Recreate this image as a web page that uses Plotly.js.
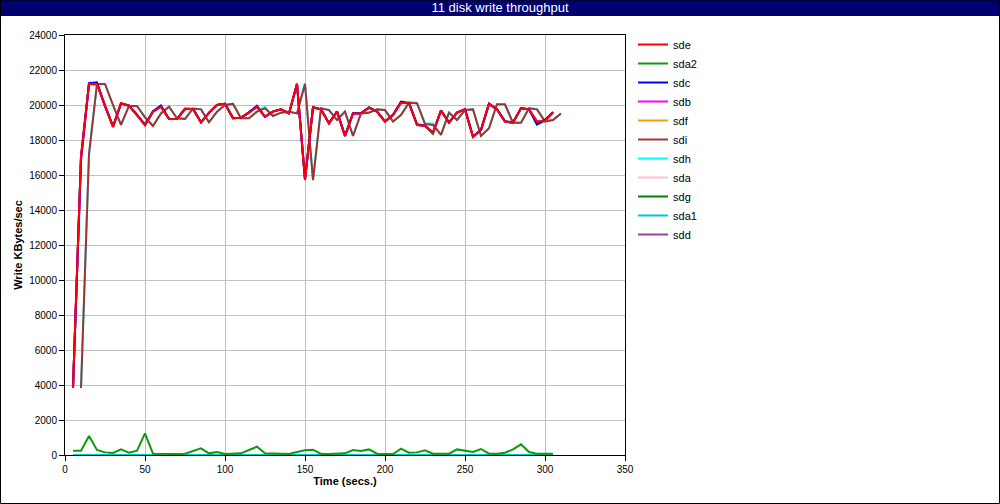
<!DOCTYPE html>
<html>
<head>
<meta charset="utf-8">
<script src="https://cdn.plot.ly/plotly-3.0.1.min.js"></script>
<style>
html,body{margin:0;padding:0;background:#fff;}
#chart{width:1000px;height:504px;}
</style>
</head>
<body>
<div id="chart"></div>
<script>
var chartTitle = "11 disk write throughput";
var xTitle = "Time (secs.)";
var yTitle = "Write KBytes/sec";
var xTicks = [0, 50, 100, 150, 200, 250, 300, 350];
var yTicks = [0, 2000, 4000, 6000, 8000, 10000, 12000, 14000, 16000, 18000, 20000, 22000, 24000];

var tMain = [5,10,15,20,25,30,35,40,45,50,55,60,65,70,75,80,85,90,95,100,105,110,115,120,125,130,135,140,145,150,155,160,165,170,175,180,185,190,195,200,205,210,215,220,225,230,235,240,245,250,255,260,265,270,275,280,285,290,295,300,305];
var tLag = [10,15,20,25,30,35,40,45,50,55,60,65,70,75,80,85,90,95,100,105,110,115,120,125,130,135,140,145,150,155,160,165,170,175,180,185,190,195,200,205,210,215,220,225,230,235,240,245,250,255,260,265,270,275,280,285,290,295,300,305,310];

var sde  = [3830,17050,21200,21200,19950,18760,20100,19960,19430,18860,19620,19900,19200,19200,19770,19770,19010,19550,20000,20060,19240,19270,19560,19900,19330,19620,19750,19520,21200,15750,19860,19750,18950,19620,18230,19520,19520,19850,19620,19050,19430,20130,20100,18860,18800,18420,19680,18990,19560,19750,18190,18570,20060,19750,19050,18990,19810,19750,19050,19100,19580];
var sda2 = [250,250,1090,285,150,115,320,130,250,1240,76,57,57,57,76,250,380,95,170,57,57,95,285,476,95,95,95,57,170,267,305,57,57,57,95,285,230,320,76,57,57,362,130,150,267,76,76,76,320,230,170,343,76,76,130,320,610,170,76,76,76];
var sdc  = [3830,17000,21250,21300,19950,18780,20080,19960,19430,18880,19640,19980,19220,19200,19800,19770,19010,19560,20000,20080,19260,19270,19580,19960,19330,19640,19760,19520,21200,15760,19880,19750,18960,19640,18240,19530,19540,19860,19620,19060,19440,20200,20120,18900,18820,18430,19700,19000,19570,19760,18200,18580,20080,19760,19080,19000,19830,19760,18900,19150,19600];
var sdb  = [3830,16800,21200,21250,19950,18760,20100,19960,19430,18860,19620,19920,19200,19200,19770,19770,19010,19550,20000,20060,19240,19270,19600,19900,19330,19620,19750,19520,21200,15700,19860,19750,18950,19620,18230,19520,19520,19850,19620,19050,19430,20150,20100,18860,18800,18420,19680,18990,19560,19750,18190,18570,20060,19750,19050,18990,19810,19750,19050,19100,19580];
var sdf  = [3830,17050,21200,21200,19950,18700,20100,19960,19430,18860,19620,19900,19200,19200,19770,19770,19010,19550,20000,20060,19240,19270,19560,19900,19330,19620,19750,19520,21250,15750,19860,19750,18950,19620,18230,19520,19520,19850,19620,19050,19430,20130,20100,18860,18800,18420,19680,18990,19560,19750,18150,18570,20060,19750,19050,18990,19810,19750,19050,19100,19580];
var sdi  = [3830,17200,21200,21200,20000,18860,19950,19950,19300,18800,19520,19900,19240,19200,19800,19750,19010,19620,20000,20060,19240,19240,19620,19810,19370,19560,19620,19520,21200,15700,19810,19710,19140,19620,18230,19520,19560,19750,19710,19050,19430,20130,20100,18910,18860,18290,19560,19140,19710,19750,18230,18670,20040,20040,18990,18990,19810,19750,19050,19140,19520];
var sdh  = [3830,17150,21200,21200,20000,18880,19950,19950,19300,18820,19540,19920,19240,19220,19800,19760,19020,19620,20000,20080,19240,19260,19640,19900,19380,19560,19640,19520,21250,15720,19810,19720,19140,19640,18240,19520,19580,19760,19710,19060,19440,20150,20120,18950,18950,18300,19580,19150,19720,19760,18240,18680,20040,19980,18990,19000,19830,19760,19100,19140,19520];
var sda  = [3830,17050,21200,21200,19950,18760,20100,19960,19430,18860,19620,19900,19200,19200,19770,19770,19010,19550,20000,20060,19240,19270,19560,19900,19330,19620,19750,19520,21200,15750,19860,19750,18950,19620,18230,19520,19520,19850,19620,19050,19430,20130,20100,18860,18800,18420,19680,18990,19560,19750,18190,18570,20060,19750,19050,18990,19810,19750,19050,19100,19580];
var sdg  = [3830,17050,21200,21200,19950,18760,20100,19960,19430,18860,19620,19900,19200,19200,19770,19770,19010,19550,20000,20060,19240,19270,19560,19900,19330,19620,19750,19520,21200,15750,19860,19750,18950,19620,18230,19520,19520,19850,19620,19050,19430,20130,20100,18860,18800,18350,19680,18990,19560,19750,18190,18570,20060,19750,19050,18990,19810,19750,18880,19100,19580];
var sda1 = [0,0,0,0,0,0,0,0,0,0,0,0,0,0,0,0,0,0,0,0,0,0,0,0,0,0,0,0,0,0,0,0,0,0,0,0,0,0,0,0,0,0,0,0,0,0,0,0,0,0,0,0,0,0,0,0,0,0,0,0,0];
var sdd  = [3830,16900,21200,21150,19950,18760,20100,19960,19430,18860,19620,19900,19200,19200,19770,19770,19010,19550,20000,20060,19240,19270,19560,19900,19330,19620,19750,19520,21200,15750,19860,19750,18950,19620,18230,19520,19520,19850,19620,19050,19430,20130,20100,18860,18800,18420,19680,18990,19560,19750,18190,18570,20060,19750,19050,18990,19810,19750,19050,19100,19580];

var series = [
  {name: "sde",  x: tMain, y: sde,  color: "#ff0000"},
  {name: "sda2", x: tMain, y: sda2, color: "#109810"},
  {name: "sdc",  x: tMain, y: sdc,  color: "#0000ff"},
  {name: "sdb",  x: tMain, y: sdb,  color: "#ff00ff"},
  {name: "sdf",  x: tMain, y: sdf,  color: "#f0a000"},
  {name: "sdi",  x: tLag,  y: sdi,  color: "#a03434"},
  {name: "sdh",  x: tLag,  y: sdh,  color: "#00ffff"},
  {name: "sda",  x: tMain, y: sda,  color: "#ffc0cb"},
  {name: "sdg",  x: tMain, y: sdg,  color: "#008000"},
  {name: "sda1", x: tMain, y: sda1, color: "#00c8d0"},
  {name: "sdd",  x: tMain, y: sdd,  color: "#a040a0"}
];

var traces = [];
for (var i = series.length - 1; i >= 0; i--) {
  var s = series[i];
  traces.push({
    type: "scatter", mode: "lines", name: s.name, x: s.x, y: s.y,
    line: {color: s.color, width: 2}
  });
}

var FONT = "Liberation Sans, Arial, Helvetica, sans-serif";
var layout = {
  width: 1000, height: 504,
  margin: {l: 65, r: 375, t: 35, b: 49, pad: 0},
  paper_bgcolor: "#ffffff", plot_bgcolor: "#ffffff",
  font: {family: FONT, size: 10, color: "#000"},
  showlegend: true,
  title: {text: chartTitle, font: {family: "Liberation Sans Narrow, Arial Narrow, " + FONT, size: 13, color: "#ffffff"},
          x: 0.5, xanchor: "center", xref: "container", y: 0.985, yanchor: "middle", yref: "container"},
  xaxis: {
    range: [0, 350], tickvals: xTicks, ticktext: xTicks.map(String),
    showgrid: true, gridcolor: "#c0c0c0", gridwidth: 1,
    showline: true, linecolor: "#000", linewidth: 1, mirror: true,
    ticks: "outside", ticklen: 5, tickcolor: "#000", zeroline: false,
    tickfont: {family: FONT, size: 10, color: "#000"},
    title: {text: xTitle, font: {family: FONT, size: 11, color: "#000", weight: "bold"}, standoff: 3}
  },
  yaxis: {
    range: [0, 24000], tickvals: yTicks, ticktext: yTicks.map(String),
    showgrid: true, gridcolor: "#c0c0c0", gridwidth: 1,
    showline: true, linecolor: "#000", linewidth: 1, mirror: true,
    ticks: "outside", ticklen: 5, tickcolor: "#000", zeroline: false,
    tickfont: {family: FONT, size: 10, color: "#000"},
    title: {text: yTitle, font: {family: FONT, size: 11, color: "#000", weight: "bold"}, standoff: 4}
  },
  legend: {
    x: 1.0143, xanchor: "left", y: 1.0119, yanchor: "top",
    traceorder: "reversed", bgcolor: "rgba(0,0,0,0)", borderwidth: 0,
    font: {family: FONT, size: 11, color: "#000"}
  },
  shapes: [
    {type: "rect", xref: "paper", yref: "paper", x0: -65/560, x1: 935/560, y0: 439/420, y1: 455/420,
     fillcolor: "#000070", line: {width: 0}, layer: "below"},
    {type: "rect", xref: "paper", yref: "paper", x0: -64.5/560, x1: 934.5/560, y0: -48.5/420, y1: 455/420,
     fillcolor: "rgba(0,0,0,0)", line: {width: 1, color: "#000"}, layer: "above"}
  ]
};

Plotly.newPlot("chart", traces, layout, {displayModeBar: false, staticPlot: true});
</script>
</body>
</html>
